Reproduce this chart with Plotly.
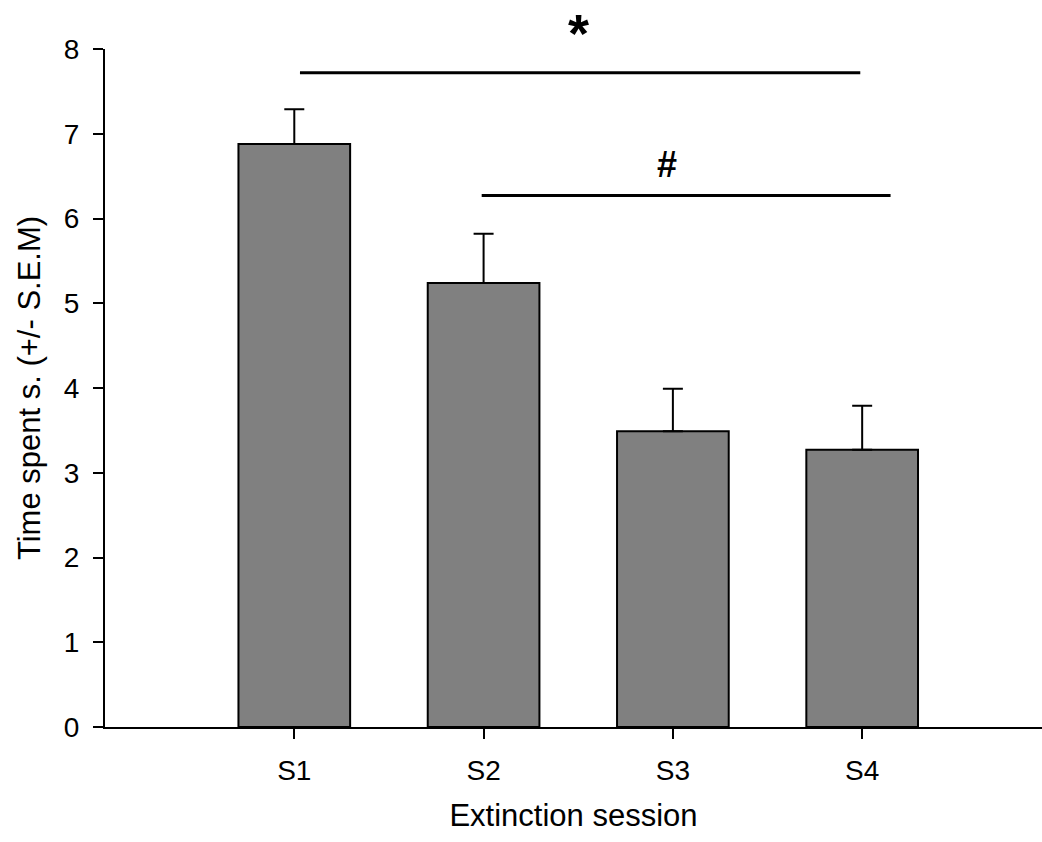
import plotly.graph_objects as go

categories = ["S1", "S2", "S3", "S4"]
means = [6.88, 5.24, 3.49, 3.27]
sem = [0.41, 0.58, 0.50, 0.52]
y_ticks = [0, 1, 2, 3, 4, 5, 6, 7, 8]

# significance brackets: (start position, end position, height, label)
sig_start = [0.03, 0.99]
sig_end = [2.99, 3.15]
sig_height = [7.72, 6.27]
sig_label = ["*", "#"]
sig_label_x = [1.5, 1.97]

xpos = list(range(len(categories)))
font_family = "Liberation Sans, Arial, sans-serif"

fig = go.Figure()
fig.add_trace(go.Bar(
    x=xpos, y=means, width=0.59,
    marker=dict(color="#808080", line=dict(color="black", width=2)),
    error_y=dict(type="data", array=sem, arrayminus=[0]*len(sem), symmetric=False,
                 color="black", thickness=2, width=10),
    showlegend=False,
))

for s, e, h, lab, lx in zip(sig_start, sig_end, sig_height, sig_label, sig_label_x):
    fig.add_shape(type="line", xref="x", yref="y", x0=s, x1=e, y0=h, y1=h,
                  line=dict(color="black", width=3))
    if lab == "*":
        fig.add_annotation(x=lx, y=1, xref="x", yref="paper", text=f"<b>{lab}</b>",
                           showarrow=False, yanchor="top", yshift=48,
                           font=dict(family=font_family, size=54, color="black"))
    else:
        fig.add_annotation(x=lx, y=h, xref="x", yref="y", text=f"<b>{lab}</b>",
                           showarrow=False, yanchor="middle", yshift=31,
                           font=dict(family=font_family, size=36, color="black"))

fig.update_layout(
    width=1042, height=842,
    margin=dict(l=105, r=0, t=49, b=115),
    plot_bgcolor="white", paper_bgcolor="white",
    font=dict(family=font_family, color="black"),
    xaxis=dict(range=[-1, 3.95], tickvals=xpos, ticktext=categories,
               showline=True, linecolor="black", linewidth=2,
               ticks="outside", ticklen=10, tickwidth=2, tickcolor="black",
               showgrid=False, zeroline=False, ticklabelstandoff=7,
               tickfont=dict(size=28, family=font_family),
               title=dict(text="Extinction session", font=dict(size=31, family=font_family), standoff=20)),
    yaxis=dict(range=[0, 8], tickvals=y_ticks,
               showline=True, linecolor="black", linewidth=2,
               ticks="outside", ticklen=10, tickwidth=2, tickcolor="black",
               showgrid=False, zeroline=False, ticklabelstandoff=8,
               tickfont=dict(size=28, family=font_family),
               title=dict(text="Time spent s. (+/- S.E.M)", font=dict(size=31, family=font_family), standoff=14)),
)

fig.write_html("out.html")
